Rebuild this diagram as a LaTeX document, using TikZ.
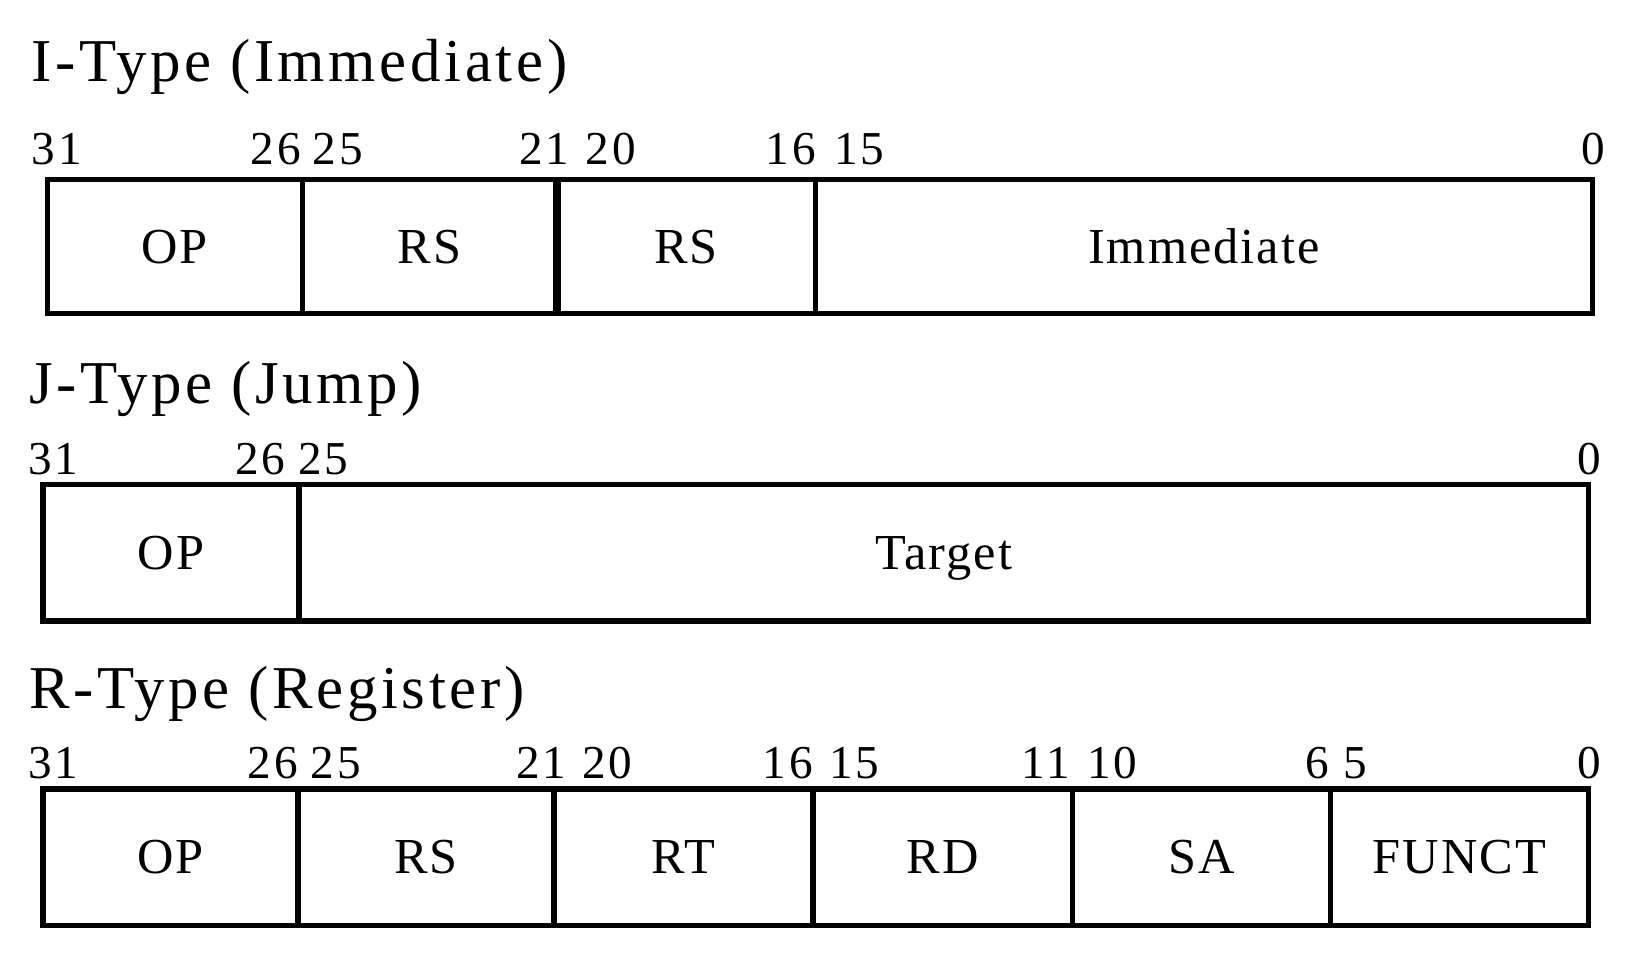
\documentclass[tikz,border=0pt]{standalone}
\usepackage{fontspec}
\setmainfont{Liberation Serif}
\newfontfamily\titlefont[LetterSpace=6]{Liberation Serif}
\newfontfamily\numfont[LetterSpace=6]{Liberation Serif}
\newfontfamily\labfont[LetterSpace=4]{Liberation Serif}
\begin{document}
\begin{tikzpicture}[x=1pt,y=-1pt,
  field/.style={draw=black, line width=5pt, inner sep=0pt, outer sep=0pt,
    minimum height=128pt, anchor=north west, text height=32pt, text depth=0pt,
    font=\labfont\fontsize{48}{50}\selectfont},
  ttl/.style={inner sep=0pt, anchor=base west, font=\titlefont\fontsize{58}{62}\selectfont},
  numL/.style={inner sep=0pt, anchor=base west, font=\numfont\fontsize{45}{48}\selectfont},
  numR/.style={inner sep=0pt, anchor=base east, font=\numfont\fontsize{45}{48}\selectfont}]
\useasboundingbox (0,0) rectangle (1568,908);
\fill[white] (0,0) rectangle (1568,908);
% ---------- I-Type ----------
\node[ttl] (ti) at (30,78) {I-Type (Immediate)};
\node[numL] (i31) at (30,157) {31};
\node[numR] (i26) at (287,157) {26};
\node[numL] (i25) at (298,157) {25};
\node[numR] (i21) at (543,157) {21};
\node[numL] (i20) at (558,157) {20};
\node[numR] (i16) at (778,157) {16};
\node[numL] (i15) at (795,157) {15};
\node[numR] (i0) at (1530,157) {0};
\node[field, minimum width=243pt] (iop) at (45,171) {OP};
\node[field, minimum width=243pt] (irs) at (288,171) {RS};
\node[field, minimum width=246pt] (irt) at (531,171) {RS};
\node[field, minimum width=741pt] (iim) at (777,171) {Immediate};
\draw[line width=8pt] (irt.north west) -- (irt.south west);
% ---------- J-Type ----------
\node[ttl] (tj) at (28,385) {J-Type (Jump)};
\node[numL] (j31) at (27,452) {31};
\node[numR] (j26) at (272,452) {26};
\node[numL] (j25) at (284,452) {25};
\node[numR] (j0) at (1526,452) {0};
\node[field, minimum width=244pt, minimum height=130pt] (jop) at (41,462) {OP};
\node[field, minimum width=1229pt, minimum height=130pt] (jtg) at (285,462) {Target};
% ---------- R-Type ----------
\node[ttl] (tr) at (28,675) {R-Type (Register)};
\node[numL] (r31) at (27,742) {31};
\node[numR] (r26) at (284,742) {26};
\node[numL] (r25) at (296,742) {25};
\node[numR] (r21) at (540,742) {21};
\node[numL] (r20) at (555,742) {20};
\node[numR] (r16) at (775,742) {16};
\node[numL] (r15) at (790,742) {15};
\node[numR] (r11) at (1020,742) {11};
\node[numL] (r10) at (1036,742) {10};
\node[numR] (r6) at (1267,742) {6};
\node[numL] (r5) at (1280,742) {5};
\node[numR] (r0) at (1526,742) {0};
\node[field, minimum width=243pt, minimum height=130pt] (rop) at (41,752) {OP};
\node[field, minimum width=244pt, minimum height=130pt] (rrs) at (284,752) {RS};
\node[field, minimum width=247pt, minimum height=130pt] (rrt) at (528,752) {RT};
\node[field, minimum width=247pt, minimum height=130pt] (rrd) at (775,752) {RD};
\node[field, minimum width=246pt, minimum height=130pt] (rsa) at (1022,752) {SA};
\node[field, minimum width=246pt, minimum height=130pt] (rfn) at (1268,752) {FUNCT};
\end{tikzpicture}
\end{document}
